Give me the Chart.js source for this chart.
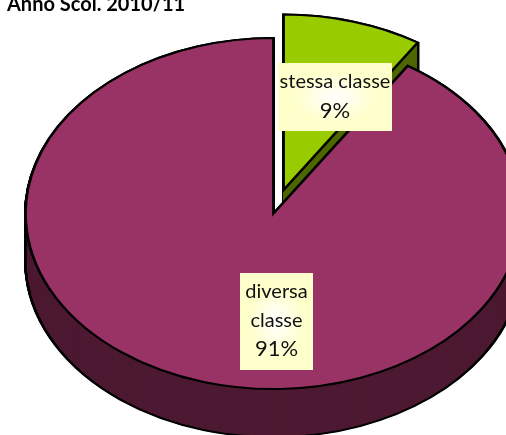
<!DOCTYPE html>
<html>
<head>
<meta charset="utf-8">
<style>
  html, body { margin: 0; padding: 0; background: #fff; overflow: hidden; }
  canvas { display: block; }
</style>
</head>
<body>
<canvas id="grafico" width="506" height="435"></canvas>
<script src="https://cdn.jsdelivr.net/npm/chart.js@4"></script>
<script>
const titolo = 'Anno Scol. 2010/11';
const categorie = ['stessa classe', 'diversa classe'];
const valori = [9.1, 90.9];
const coloriTop = ['#99cc00', '#993366'];
const coloriLato = ['#4d6600', '#4d1a33'];

const squish = 0.708;   // tilt of the pie
const depth = 48;       // thickness in px
const lineW = 2.8;
const latoW = 1;        // seals the seams between the stacked copies

// exploded slice, in unsquished chart units
const stacco = [[10, -33], [0, 0]];

// label boxes: x, y, w, h, then the lines of text
const etichette = [
  { box: [278, 63, 114, 68], righe: [categorie[0], Math.round(valori[0]) + '%'], y0: 82 },
  { box: [240, 273, 73, 97], righe: ['diversa', 'classe', Math.round(valori[1]) + '%'], y0: 292 }
];

function disegnaArco(ctx, arc, i, shift, fill, stroke, width, rientro) {
  const originale = arc.options;
  const raggio = arc.outerRadius;
  arc.outerRadius = raggio - rientro;
  arc.options = Object.assign({}, originale, {
    backgroundColor: fill, borderColor: stroke, borderWidth: width
  });
  ctx.save();
  ctx.translate(0, arc.y + 0.5 + shift);
  ctx.scale(1, squish);
  ctx.translate(stacco[i][0] - 0.5, stacco[i][1] - arc.y);
  arc.draw(ctx);
  ctx.restore();
  arc.options = originale;
  arc.outerRadius = raggio;
}

const torta3d = {
  id: 'torta3d',
  beforeDatasetsDraw(chart) {
    const ctx = chart.ctx;
    const archi = chart.getDatasetMeta(0).data;
    const rientro = lineW / 2 + latoW / 2;
    // green first, the big slice covers it
    archi.forEach((arc, i) => {
      for (let s = depth; s >= 0; s -= 0.5) disegnaArco(ctx, arc, i, s, '#000', '#000', lineW, 0);
      for (let s = depth; s >= 0; s -= 0.5) disegnaArco(ctx, arc, i, s, coloriLato[i], coloriLato[i], latoW, rientro);
      disegnaArco(ctx, arc, i, 0, coloriTop[i], '#000', lineW, 0);
    });
    return false;
  },
  afterDraw(chart) {
    const ctx = chart.ctx;
    ctx.save();
    ctx.textAlign = 'center';
    ctx.textBaseline = 'middle';
    etichette.forEach(e => {
      const [x, y, w, h] = e.box;
      ctx.save();
      ctx.beginPath();
      ctx.rect(x, y, w, h);
      ctx.clip();
      ctx.translate(x + w / 2, y + h / 2);
      ctx.scale(w / 2, h / 2);
      const g = ctx.createRadialGradient(0, 0, 0, 0, 0, 1);
      g.addColorStop(0, '#ffffff');
      g.addColorStop(0.75, '#ffffcc');
      g.addColorStop(1, '#ffffcc');
      ctx.fillStyle = g;
      ctx.fillRect(-1, -1, 2, 2);
      ctx.restore();
      ctx.fillStyle = '#111';
      e.righe.forEach((r, n) => {
        ctx.font = r.endsWith('%') ? '22px Lato' : '20px Lato';
        ctx.fillText(r, x + w / 2, e.y0 + n * 28.5);
      });
    });
    ctx.textAlign = 'left';
    ctx.textBaseline = 'alphabetic';
    ctx.fillStyle = '#000';
    ctx.font = '700 20px Lato';
    ctx.fillText(titolo, 7, 11);
    ctx.restore();
  }
};

new Chart(document.getElementById('grafico'), {
  type: 'pie',
  data: {
    labels: categorie,
    datasets: [{
      data: valori,
      backgroundColor: coloriTop,
      borderColor: '#000',
      borderWidth: lineW,
      borderJoinStyle: 'miter'
    }]
  },
  options: {
    responsive: false,
    animation: false,
    radius: 248,
    layout: { padding: { left: 42, bottom: 9 } },
    plugins: { legend: { display: false }, tooltip: { enabled: false } }
  },
  plugins: [torta3d]
});
</script>
</body>
</html>
